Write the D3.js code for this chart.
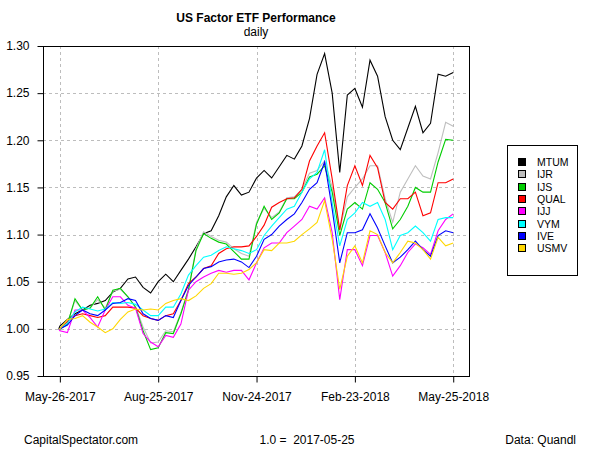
<!DOCTYPE html>
<html><head><meta charset="utf-8">
<script src="https://cdn.jsdelivr.net/npm/d3@7/dist/d3.min.js"></script>
<style>
body{margin:0;background:#fff}
svg{display:block}
text{font-family:"Liberation Sans",Arial,sans-serif;fill:#000}
</style>
</head><body>
<svg id="chart" width="600" height="450"></svg>
<script>
// ---------- data ----------
const dates = ["2017-05-25","2017-05-26","2017-06-02","2017-06-09","2017-06-16","2017-06-23","2017-06-30",
"2017-07-07","2017-07-14","2017-07-21","2017-07-28","2017-08-04","2017-08-11","2017-08-18","2017-08-25",
"2017-09-01","2017-09-08","2017-09-15","2017-09-22","2017-09-29","2017-10-06","2017-10-13","2017-10-20",
"2017-10-27","2017-11-03","2017-11-10","2017-11-17","2017-11-24","2017-12-01","2017-12-08","2017-12-15",
"2017-12-22","2017-12-29","2018-01-05","2018-01-12","2018-01-19","2018-01-26","2018-02-02","2018-02-09",
"2018-02-16","2018-02-23","2018-03-02","2018-03-09","2018-03-16","2018-03-23","2018-03-30","2018-04-06",
"2018-04-13","2018-04-20","2018-04-27","2018-05-04","2018-05-11","2018-05-18","2018-05-25"];

const MTUM = [1.000,1.003,1.010,1.016,1.020,1.025,1.027,1.030,1.039,1.043,1.053,1.055,1.044,1.038,1.050,1.058,1.050,1.062,1.074,1.087,1.101,1.104,1.120,1.140,1.152,1.142,1.145,1.160,1.168,1.160,1.172,1.184,1.180,1.194,1.223,1.270,1.292,1.250,1.166,1.248,1.255,1.235,1.285,1.268,1.225,1.200,1.190,1.213,1.236,1.208,1.218,1.270,1.268,1.272];
const IJR  = [1.000,1.000,1.006,1.030,1.020,1.022,1.031,1.022,1.040,1.042,1.034,1.024,1.002,0.985,0.986,0.998,0.997,1.017,1.042,1.085,1.103,1.098,1.094,1.092,1.085,1.080,1.077,1.113,1.128,1.118,1.124,1.139,1.140,1.148,1.165,1.168,1.178,1.150,1.105,1.140,1.150,1.159,1.173,1.173,1.138,1.113,1.145,1.159,1.173,1.162,1.159,1.187,1.219,1.215];
const IJS  = [1.000,1.000,1.005,1.032,1.020,1.022,1.034,1.020,1.041,1.043,1.034,1.023,0.998,0.978,0.980,0.996,0.995,1.016,1.041,1.083,1.101,1.096,1.092,1.090,1.082,1.074,1.074,1.111,1.130,1.116,1.123,1.138,1.138,1.145,1.161,1.164,1.173,1.145,1.099,1.127,1.134,1.127,1.155,1.148,1.134,1.106,1.116,1.130,1.150,1.145,1.145,1.177,1.201,1.200];
const QUAL = [1.000,1.000,1.008,1.014,1.016,1.014,1.012,1.014,1.023,1.023,1.023,1.022,1.014,1.011,1.009,1.014,1.016,1.030,1.048,1.055,1.064,1.067,1.080,1.085,1.087,1.087,1.088,1.098,1.110,1.129,1.134,1.138,1.139,1.148,1.178,1.194,1.208,1.159,1.105,1.152,1.173,1.152,1.184,1.171,1.134,1.127,1.138,1.138,1.145,1.120,1.123,1.155,1.155,1.159];
const IJJ  = [1.000,0.998,0.996,1.020,1.020,1.012,1.002,1.020,1.034,1.034,1.025,1.022,0.995,0.986,0.981,0.993,0.991,1.005,1.041,1.050,1.055,1.059,1.062,1.060,1.062,1.062,1.052,1.070,1.086,1.091,1.091,1.102,1.109,1.116,1.130,1.127,1.139,1.102,1.031,1.084,1.084,1.067,1.099,1.099,1.081,1.056,1.067,1.081,1.090,1.086,1.079,1.104,1.116,1.122];
const VYM  = [1.000,1.000,1.006,1.018,1.023,1.021,1.019,1.021,1.028,1.027,1.028,1.026,1.020,1.014,1.014,1.023,1.023,1.037,1.057,1.067,1.076,1.078,1.083,1.087,1.085,1.083,1.080,1.084,1.099,1.109,1.118,1.127,1.130,1.145,1.159,1.166,1.190,1.134,1.088,1.116,1.123,1.134,1.130,1.134,1.116,1.084,1.099,1.102,1.109,1.102,1.093,1.116,1.118,1.118];
const IVE  = [1.000,1.000,1.004,1.014,1.020,1.016,1.014,1.020,1.027,1.028,1.032,1.030,1.016,1.011,1.009,1.014,1.012,1.030,1.046,1.055,1.064,1.066,1.071,1.073,1.074,1.071,1.065,1.077,1.095,1.100,1.109,1.116,1.122,1.134,1.148,1.155,1.177,1.127,1.070,1.102,1.102,1.105,1.122,1.107,1.088,1.070,1.076,1.084,1.093,1.084,1.077,1.099,1.104,1.102];
const USMV = [1.000,1.000,1.010,1.011,1.014,1.007,1.002,0.996,1.000,1.010,1.018,1.021,1.020,1.021,1.020,1.027,1.030,1.032,1.030,1.035,1.043,1.048,1.059,1.059,1.058,1.059,1.063,1.070,1.084,1.083,1.091,1.091,1.093,1.100,1.106,1.113,1.136,1.095,1.042,1.077,1.088,1.070,1.104,1.100,1.081,1.070,1.081,1.093,1.091,1.084,1.074,1.097,1.088,1.091];

const seriesNames  = ["MTUM","IJR","IJS","QUAL","IJJ","VYM","IVE","USMV"];
const seriesValues = [MTUM, IJR, IJS, QUAL, IJJ, VYM, IVE, USMV];
const seriesColors = ["#000000","#BEBEBE","#00CD00","#FF0000","#FF00FF","#00FFFF","#0000FF","#FFD700"];

const yTicks = [0.95,1.00,1.05,1.10,1.15,1.20,1.25,1.30];
const xTickDates  = ["2017-05-26","2017-08-25","2017-11-24","2018-02-23","2018-05-25"];
const xTickLabels = ["May-26-2017","Aug-25-2017","Nov-24-2017","Feb-23-2018","May-25-2018"];

const titleText = "US Factor ETF Performance";
const subtitleText = "daily";
const footLeft = "CapitalSpectator.com";
const footMid = "1.0 =  2017-05-25";
const footRight = "Data: Quandl";

// ---------- layout ----------
const L = 43, R = 469, T = 46, B = 376;
const parse = d3.timeParse("%Y-%m-%d");
const dts = dates.map(parse);
const t0 = dts[0], t1 = dts[dts.length-1];
const pad = (t1 - t0) * 0.04;

const x = d3.scaleTime().domain([new Date(+t0 - pad), new Date(+t1 + pad)]).range([L, R]);
const y = d3.scaleLinear().domain([0.95, 1.30]).range([B, T]);

const svg = d3.select("#chart");
svg.append("rect").attr("width",600).attr("height",450).attr("fill","#fff");

// grid
const g = svg.append("g");
g.selectAll("line.hg").data(yTicks.slice(1,-1)).enter().append("line")
  .attr("x1",L).attr("x2",R).attr("y1",d=>Math.round(y(d))+0.5).attr("y2",d=>Math.round(y(d))+0.5)
  .attr("stroke","#bdbdbd").attr("stroke-dasharray","3,3");
g.selectAll("line.vg").data(xTickDates).enter().append("line")
  .attr("x1",d=>Math.round(x(parse(d)))+0.5).attr("x2",d=>Math.round(x(parse(d)))+0.5)
  .attr("y1",T).attr("y2",B)
  .attr("stroke","#bdbdbd").attr("stroke-dasharray","3,3");

// lines
const line = d3.line().x((d,i)=>x(dts[i])).y(d=>y(d));
seriesValues.forEach((vals,si)=>{
  svg.append("path").datum(vals).attr("d",line)
    .attr("fill","none").attr("stroke",seriesColors[si]).attr("stroke-width",1.1)
    .attr("stroke-linejoin","miter");
});

// box
svg.append("rect").attr("x",L+0.5).attr("y",T+0.5).attr("width",R-L).attr("height",B-T)
  .attr("fill","none").attr("stroke","#000").attr("stroke-width",1);

// axes
const yAxis = d3.axisLeft(y).tickValues(yTicks).tickFormat(d3.format(".2f")).tickSize(6).tickPadding(8);
const ya = svg.append("g").attr("transform",`translate(${L+0.5},0)`).call(yAxis);
ya.select(".domain").remove();
ya.selectAll("text").attr("font-size",12).attr("font-family","Liberation Sans, Arial, sans-serif").attr("fill","#000");
ya.selectAll("line").attr("stroke","#000");

const xAxis = d3.axisBottom(x).tickValues(xTickDates.map(parse))
  .tickFormat((d,i)=>xTickLabels[i]).tickSize(6).tickPadding(10);
const xa = svg.append("g").attr("transform",`translate(0,${B+0.5})`).call(xAxis);
xa.select(".domain").remove();
xa.selectAll("text").attr("font-size",12).attr("font-family","Liberation Sans, Arial, sans-serif").attr("fill","#000");
xa.selectAll("line").attr("stroke","#000");

// titles
const cx = (L+R)/2;
svg.append("text").attr("x",cx).attr("y",22).attr("text-anchor","middle")
  .attr("font-size",12).attr("font-weight","bold").text(titleText);
svg.append("text").attr("x",cx).attr("y",36).attr("text-anchor","middle")
  .attr("font-size",12).text(subtitleText);

// footer
svg.append("text").attr("x",24).attr("y",444).attr("font-size",12).text(footLeft);
svg.append("text").attr("x",307).attr("y",444).attr("text-anchor","middle").attr("font-size",12).attr("xml:space","preserve").text(footMid);
svg.append("text").attr("x",576).attr("y",444).attr("text-anchor","end").attr("font-size",12).text(footRight);

// legend
const lg = svg.append("g");
lg.append("rect").attr("x",507.5).attr("y",145.5).attr("width",70).attr("height",130)
  .attr("fill","#fff").attr("stroke","#000");
seriesNames.forEach((n,i)=>{
  const cy = 162 + i*12.3;
  lg.append("rect").attr("x",518.5).attr("y",Math.round(cy-4)+0.5).attr("width",7).attr("height",7)
    .attr("fill",seriesColors[i]).attr("stroke","#000");
  lg.append("text").attr("x",537).attr("y",cy+4).attr("font-size",10.5).text(n);
});
</script>
</body></html>
